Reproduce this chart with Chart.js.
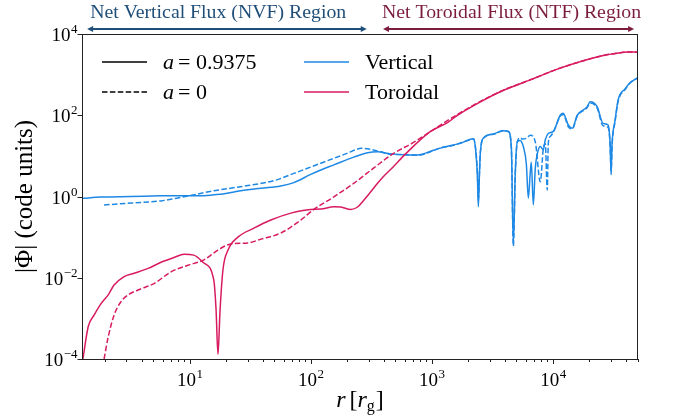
<!DOCTYPE html>
<html>
<head>
<meta charset="utf-8">
<script src="https://cdn.jsdelivr.net/npm/chart.js@4.4.1/dist/chart.umd.min.js"></script>
<style>
  body { margin: 0; background: #fff; }
</style>
</head>
<body>
<canvas id="fluxChart" width="673" height="418"></canvas>
<script>
// radius r [r_g] and |Phi| (code units)
const rVertSpin = [1.3, 1.85, 3.28, 5.79, 8.47, 13.1, 15.8, 18.8, 26.4, 38.6, 56.5, 72.4, 99.8, 121, 155, 226, 295, 356, 456, 630, 762, 1033, 1180, 1510, 1723, 2084, 2203, 2290, 2378, 2423, 2470, 2518, 2667, 3224, 3899, 4285, 4538, 4713, 4894, 5082, 5383, 5590, 5698, 6035, 6266, 6505, 6633, 6890, 7156, 7432, 7870, 8333, 8653, 9160, 10070, 11500, 12170, 13400, 14450, 15890, 19200, 20320, 23200, 26000, 28600, 29700, 30270, 30830, 32650, 34590, 39460, 43380, 50000];
const phiVertSpin = [0.90, 0.97, 1.0, 1.04, 1.05, 1.05, 1.1, 1.15, 1.38, 1.6, 1.82, 2.2, 3.5, 4.5, 6.0, 9.3, 12.0, 12.6, 11.2, 10.5, 10.5, 13.8, 15.5, 18.6, 20.4, 25.7, 26.3, 15.8, 3.2, 0.56, 3.2, 12.6, 27.5, 34.7, 41.7, 39.8, 15.8, 0.071, 4, 22.4, 24, 20, 17, 6.3, 0.91, 4, 7, 0.62, 5, 11.2, 17, 14, 25, 35.5, 40, 100, 112, 57.5, 48, 100, 162, 214, 162, 63, 57.5, 20, 4.1, 20, 76, 240, 447, 631, 832];

const rVertNoSpin = [1.96, 3.28, 5.79, 8.47, 15.8, 30.2, 49.5, 72.4, 121, 201, 244, 258, 312, 377, 456, 630, 762, 1033, 1180, 1510, 1723, 2084, 2203, 2290, 2378, 2423, 2470, 2518, 2667, 3224, 3899, 4285, 4538, 4713, 4894, 5082, 5383, 5590, 6035, 6505, 7156, 7870, 8333, 8653, 8985, 9160, 9510, 10070, 11500, 12170, 13400, 14450, 15890, 19200, 20320, 23200, 26000, 28600, 29700, 30270, 30830, 32650, 34590, 39460, 43380, 50000];
const phiVertNoSpin = [0.62, 0.69, 0.78, 0.95, 1.38, 1.86, 2.45, 3.7, 6.6, 11.7, 14.8, 15.5, 14.5, 12.6, 11.0, 10.7, 10.3, 13.5, 15.8, 18.2, 20.9, 25, 26.3, 17, 4, 0.8, 3.5, 12, 27, 34, 42, 40, 16, 0.06, 4, 22, 28, 26, 27, 32, 22, 2.3, 15, 20, 1.45, 20, 30, 38, 95, 105, 52, 46, 95, 155, 200, 150, 55, 50, 18, 3.5, 18, 70, 220, 430, 620, 830];

const rTorSpin = [1.31, 1.45, 1.62, 1.85, 2.12, 2.37, 2.87, 3.47, 4.53, 5.79, 7.41, 8.97, 10.8, 13.1, 15.8, 16.5, 17.1, 17.8, 18.8, 20.7, 25.0, 33.9, 46.8, 68.4, 99.8, 121, 155, 177, 215, 245, 273, 330, 377, 483, 607, 975, 1346, 1629, 2518, 3680, 6505, 11500, 26000, 35900, 40800, 50000];
const phiTorSpin = [1.0e-4, 6.3e-4, 1.2e-3, 2.3e-3, 3.8e-3, 6.6e-3, 0.0107, 0.0129, 0.017, 0.024, 0.0316, 0.038, 0.036, 0.023, 0.0087, 0.0016, 1.3e-4, 0.0016, 0.0155, 0.048, 0.1, 0.166, 0.263, 0.39, 0.48, 0.49, 0.56, 0.55, 0.48, 0.56, 0.8, 1.6, 2.6, 5.5, 11.2, 40, 66, 100, 214, 380, 741, 1445, 2950, 3470, 3630, 3550];

const rTorNoSpin = [1.96, 2.12, 2.37, 2.71, 3.10, 3.74, 5.07, 7.00, 9.68, 13.1, 17.1, 21.9, 30.2, 38.6, 56.5, 82.6, 106, 155, 226, 330, 483, 706, 1180, 1629, 2518, 3680, 6505, 11500, 26000, 35900, 40800, 50000];
const phiTorNoSpin = [1.0e-4, 3.5e-4, 1.2e-3, 2.6e-3, 3.8e-3, 5.0e-3, 7.2e-3, 0.014, 0.0204, 0.0275, 0.048, 0.068, 0.072, 0.089, 0.126, 0.263, 0.48, 0.98, 2.1, 5.0, 11.5, 21.4, 57.5, 105, 219, 385, 745, 1450, 2950, 3470, 3630, 3550];

// axis ranges and tick labels (powers of ten)
const xRange = [1.3, 50000];
const yRange = [1e-4, 1e4];
const xTickPowers = [1, 2, 3, 4];
const yTickPowers = [-4, -2, 0, 2, 4];

// region arrows along the top, in r
const nvfRange = [1.42, 290];
const ntfRange = [395, 46900];

const blue = '#1E88E5';
const pink = '#D81B60';
const serif = '"Liberation Serif", "DejaVu Serif", serif';

function pts(xs, ys) {
    return xs.map((x, i) => ({ x: x, y: ys[i] }));
}

function powLabel(ctx, p, x, y, align) {
    const base = '10';
    const sup = p < 0 ? '\u2212' + Math.abs(p) : String(p);
    ctx.font = '19px ' + serif;
    const wb = ctx.measureText(base).width;
    ctx.font = '13px ' + serif;
    const ws = ctx.measureText(sup).width;
    const x0 = align === 'center' ? x - (wb + ws) / 2 : x - wb - ws;
    ctx.textAlign = 'left';
    ctx.textBaseline = 'alphabetic';
    ctx.font = '19px ' + serif;
    ctx.fillText(base, x0, y);
    ctx.font = '13px ' + serif;
    ctx.fillText(sup, x0 + wb + 0.5, y - 8);
}

function arrow(ctx, x1, x2, y, color) {
    const hl = 6, hw = 3;
    ctx.strokeStyle = color;
    ctx.fillStyle = color;
    ctx.lineWidth = 1.8;
    ctx.beginPath();
    ctx.moveTo(x1 + hl - 1, y);
    ctx.lineTo(x2 - hl + 1, y);
    ctx.stroke();
    ctx.beginPath();
    ctx.moveTo(x1, y);
    ctx.lineTo(x1 + hl, y - hw);
    ctx.lineTo(x1 + hl, y + hw);
    ctx.closePath();
    ctx.fill();
    ctx.beginPath();
    ctx.moveTo(x2, y);
    ctx.lineTo(x2 - hl, y - hw);
    ctx.lineTo(x2 - hl, y + hw);
    ctx.closePath();
    ctx.fill();
}

const decorPlugin = {
    id: 'decor',
    afterDraw(chart) {
        const ctx = chart.ctx;
        const a = chart.chartArea;
        const xs = chart.scales.x;
        const ys = chart.scales.y;
        ctx.save();

        // frame
        ctx.strokeStyle = '#222';
        ctx.lineWidth = 1;
        ctx.strokeRect(82.5, 34.5, 555, 325);

        // x ticks
        ctx.beginPath();
        for (let n = 0; n <= 4; n++) {
            for (let k = 1; k <= 9; k++) {
                const v = k * Math.pow(10, n);
                if (v < xRange[0] || v > xRange[1]) continue;
                const px = Math.round(xs.getPixelForValue(v)) + 0.5;
                ctx.moveTo(px, a.bottom);
                ctx.lineTo(px, a.bottom + (k === 1 ? 5 : 3));
            }
        }
        // y ticks
        yTickPowers.forEach(p => {
            const py = Math.round(ys.getPixelForValue(Math.pow(10, p))) + 0.5;
            ctx.moveTo(a.left, py);
            ctx.lineTo(a.left - 5, py);
        });
        ctx.stroke();

        // tick labels
        ctx.fillStyle = '#000';
        xTickPowers.forEach(p => {
            powLabel(ctx, p, xs.getPixelForValue(Math.pow(10, p)), 386, 'center');
        });
        yTickPowers.forEach(p => {
            powLabel(ctx, p, 77, ys.getPixelForValue(Math.pow(10, p)) + 7, 'right');
        });

        // x title: r [r_g]
        ctx.textAlign = 'left';
        ctx.font = 'italic 24px ' + serif;
        const wr = ctx.measureText('r').width;
        ctx.font = '24px ' + serif;
        const wbr = ctx.measureText('[').width;
        ctx.font = '16px ' + serif;
        const wg = ctx.measureText('g').width;
        const total = wr + 4 + wbr + wr + wg + 1 + wbr;
        let cx = (a.left + a.right) / 2 - total / 2;
        const by = 407;
        ctx.font = 'italic 24px ' + serif;
        ctx.fillText('r', cx, by); cx += wr + 4;
        ctx.font = '24px ' + serif;
        ctx.fillText('[', cx, by); cx += wbr;
        ctx.font = 'italic 24px ' + serif;
        ctx.fillText('r', cx, by); cx += wr;
        ctx.font = '16px ' + serif;
        ctx.fillText('g', cx, by + 4); cx += wg + 1;
        ctx.font = '24px ' + serif;
        ctx.fillText(']', cx, by);

        // y title
        ctx.save();
        ctx.translate(32, (a.top + a.bottom) / 2);
        ctx.rotate(-Math.PI / 2);
        ctx.textAlign = 'center';
        ctx.font = '25px ' + serif;
        ctx.fillText('|\u03A6| (code units)', 0, 0);
        ctx.restore();

        // legend
        const rows = [62, 92];
        ctx.strokeStyle = '#000';
        ctx.lineWidth = 1.5;
        ctx.beginPath();
        ctx.moveTo(102, rows[0]); ctx.lineTo(147, rows[0]);
        ctx.stroke();
        ctx.setLineDash([5.5, 2.4]);
        ctx.beginPath();
        ctx.moveTo(102, rows[1]); ctx.lineTo(147, rows[1]);
        ctx.stroke();
        ctx.setLineDash([]);
        ctx.strokeStyle = blue;
        ctx.beginPath();
        ctx.moveTo(304, rows[0]); ctx.lineTo(349, rows[0]);
        ctx.stroke();
        ctx.strokeStyle = pink;
        ctx.beginPath();
        ctx.moveTo(304, rows[1]); ctx.lineTo(349, rows[1]);
        ctx.stroke();

        ctx.fillStyle = '#000';
        ['= 0.9375', '= 0'].forEach((t, i) => {
            ctx.font = 'italic 22px ' + serif;
            ctx.fillText('a', 163, rows[i] + 7);
            const wa = ctx.measureText('a').width;
            ctx.font = '22px ' + serif;
            ctx.fillText(t, 163 + wa + 4, rows[i] + 7);
        });
        ctx.font = '22px ' + serif;
        ctx.fillText('Vertical', 365, rows[0] + 7);
        ctx.fillText('Toroidal', 365, rows[1] + 7);

        // region arrows
        const nv = nvfRange.map(v => xs.getPixelForValue(v));
        const nt = ntfRange.map(v => xs.getPixelForValue(v));
        arrow(ctx, nv[0], nv[1], 29, '#1F4E79');
        arrow(ctx, nt[0], nt[1], 29, '#7B1C3E');
        ctx.font = '19.8px ' + serif;
        ctx.fillStyle = '#1F4E79';
        ctx.fillText('Net Vertical Flux (NVF) Region', nv[0] + 3, 18);
        ctx.fillStyle = '#7B1C3E';
        ctx.fillText('Net Toroidal Flux (NTF) Region', nt[0] - 1, 18);

        ctx.restore();
    }
};

const ctx = document.getElementById('fluxChart');
new Chart(ctx, {
    type: 'line',
    data: {
        datasets: [
            {
                label: 'Toroidal a=0',
                data: pts(rTorNoSpin, phiTorNoSpin),
                borderColor: pink,
                borderDash: [5.5, 2.4],
                borderWidth: 1.5
            },
            {
                label: 'Toroidal a=0.9375',
                data: pts(rTorSpin, phiTorSpin),
                borderColor: pink,
                borderWidth: 1.5
            },
            {
                label: 'Vertical a=0',
                data: pts(rVertNoSpin, phiVertNoSpin),
                borderColor: blue,
                borderDash: [5.5, 2.4],
                borderWidth: 1.5
            },
            {
                label: 'Vertical a=0.9375',
                data: pts(rVertSpin, phiVertSpin),
                borderColor: blue,
                borderWidth: 1.5
            }
        ]
    },
    options: {
        responsive: false,
        animation: false,
        devicePixelRatio: 1,
        events: [],
        elements: {
            point: { radius: 0 },
            line: { cubicInterpolationMode: 'monotone', fill: false }
        },
        layout: {
            padding: { top: 34, right: 35.5, left: 0, bottom: 0 }
        },
        scales: {
            x: {
                type: 'logarithmic',
                min: xRange[0],
                max: xRange[1],
                ticks: { display: false },
                grid: { display: false },
                border: { display: false },
                afterFit: function (scale) { scale.height = 59; }
            },
            y: {
                type: 'logarithmic',
                min: yRange[0],
                max: yRange[1],
                ticks: { display: false },
                grid: { display: false },
                border: { display: false },
                afterFit: function (scale) { scale.width = 82.5; }
            }
        },
        plugins: {
            legend: { display: false },
            tooltip: { enabled: false }
        }
    },
    plugins: [decorPlugin]
});
</script>
</body>
</html>
